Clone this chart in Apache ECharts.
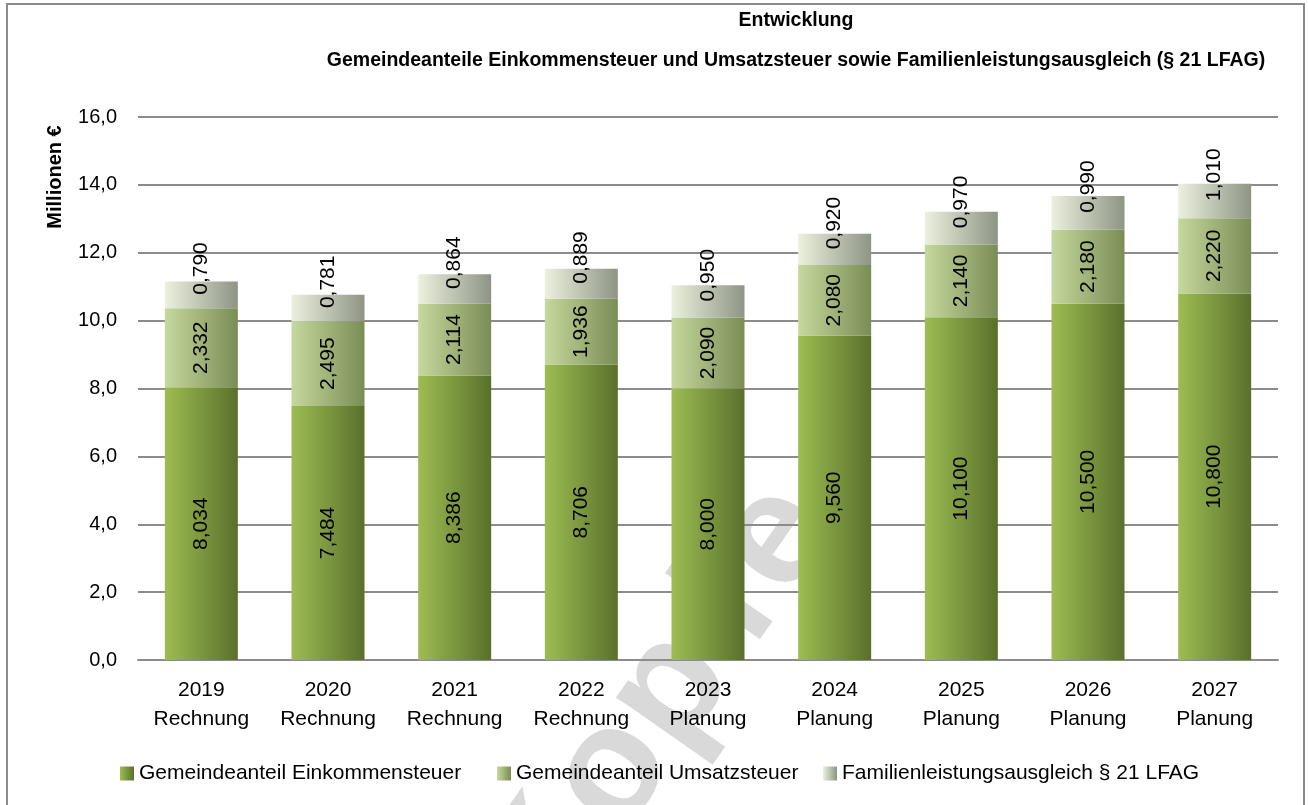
<!DOCTYPE html>
<html>
<head>
<meta charset="utf-8">
<script src="https://cdn.jsdelivr.net/npm/echarts@6/dist/echarts.min.js"></script>
<style>
html, body { margin: 0; padding: 0; background: #fff; }
#chart { width: 1308px; height: 805px; }
</style>
</head>
<body>
<div id="chart"></div>
<script>
// Werte in Millionen Euro
var jahre = ['2019', '2020', '2021', '2022', '2023', '2024', '2025', '2026', '2027'];
var art = ['Rechnung', 'Rechnung', 'Rechnung', 'Rechnung', 'Planung', 'Planung', 'Planung', 'Planung', 'Planung'];
var einkommensteuer = [8.034, 7.484, 8.386, 8.706, 8.000, 9.560, 10.100, 10.500, 10.800];
var umsatzsteuer = [2.332, 2.495, 2.114, 1.936, 2.090, 2.080, 2.140, 2.180, 2.220];
var familienleistung = [0.790, 0.781, 0.864, 0.889, 0.950, 0.920, 0.970, 0.990, 1.010];
var serienNamen = ['Gemeindeanteil Einkommensteuer', 'Gemeindeanteil Umsatzsteuer', 'Familienleistungsausgleich § 21 LFAG'];

var schrift = '"Liberation Sans", Arial, sans-serif';

var kategorien = jahre.map(function (j, i) { return j + '\n' + art[i]; });

function verlauf(links, rechts) {
	return new echarts.graphic.LinearGradient(0, 0, 1, 0, [
		{ offset: 0, color: links },
		{ offset: 1, color: rechts }
	]);
}

function zahl(p) {
	return p.value.toFixed(3).replace('.', ',');
}

function balkenLabel(align) {
	return {
		show: true,
		position: 'inside',
		rotate: 90,
		align: align,
		fontSize: 21,
		color: '#000',
		fontFamily: schrift,
		formatter: zahl
	};
}

function legende(name, left) {
	return {
		left: left,
		top: 758,
		itemWidth: 14,
		itemHeight: 14,
		icon: 'rect',
		textStyle: { fontFamily: schrift, fontSize: 21, color: '#000' },
		data: [name]
	};
}

var chart = echarts.init(document.getElementById('chart'));
var option = {
	animation: false,
	textStyle: { fontFamily: schrift },
	title: {
		text: 'Entwicklung\nGemeindeanteile Einkommensteuer und Umsatzsteuer sowie Familienleistungsausgleich (§ 21 LFAG)',
		left: 791,
		top: -4,
		textAlign: 'center',
		textStyle: {
			fontFamily: schrift,
			fontSize: 19.5,
			fontWeight: 'bold',
			color: '#000',
			lineHeight: 40
		}
	},
	legend: [
		legende(serienNamen[0], 115),
		legende(serienNamen[1], 492),
		legende(serienNamen[2], 818)
	],
	grid: {
		left: 138,
		right: 30,
		top: 117,
		bottom: 145
	},
	xAxis: {
		type: 'category',
		data: kategorien,
		axisLine: { lineStyle: { color: '#8c8c8c', width: 2 } },
		axisTick: { show: false },
		axisLabel: {
			interval: 0,
			color: '#000',
			fontSize: 21,
			lineHeight: 29,
			margin: 16,
			fontFamily: schrift
		}
	},
	yAxis: {
		type: 'value',
		min: 0,
		max: 16,
		interval: 2,
		axisLine: { show: false },
		axisTick: { show: false },
		splitLine: { lineStyle: { color: '#8c8c8c', width: 2 } },
		axisLabel: {
			color: '#000',
			fontSize: 20,
			margin: 21,
			fontFamily: schrift,
			formatter: function (v) { return v.toFixed(1).replace('.', ','); }
		}
	},
	series: [
		{
			name: serienNamen[0],
			type: 'bar',
			stack: 'summe',
			barWidth: 73,
			data: einkommensteuer,
			itemStyle: { color: verlauf('#9dbd52', '#5a702c') },
			label: balkenLabel('center')
		},
		{
			name: serienNamen[1],
			type: 'bar',
			stack: 'summe',
			barWidth: 73,
			data: umsatzsteuer,
			itemStyle: { color: verlauf('#c5d89d', '#7a8d55') },
			label: balkenLabel('center')
		},
		{
			name: serienNamen[2],
			type: 'bar',
			stack: 'summe',
			barWidth: 73,
			data: familienleistung,
			itemStyle: { color: verlauf('#ebf1dd', '#8f9585') },
			label: balkenLabel('left')
		}
	],
	graphic: [
		{
			type: 'rect',
			shape: { x: 7, y: 4, width: 1297, height: 820 },
			style: { fill: 'none', stroke: '#8a8a8a', lineWidth: 2 },
			silent: true
		},
		{
			type: 'text',
			x: 55,
			y: 177,
			rotation: Math.PI / 2,
			style: {
				text: 'Millionen €',
				fontFamily: schrift,
				fontSize: 20,
				fontWeight: 'bold',
				fill: '#000',
				align: 'center',
				verticalAlign: 'middle'
			}
		},
		{
			// Wasserzeichen "Kopie", Buchstaben einzeln gesetzt
			type: 'group',
			x: 730,
			y: 605,
			rotation: 55 * Math.PI / 180,
			z: 100,
			silent: true,
			children: [['K', -320], ['o', -205], ['p', -103], ['i', 0], ['e', 81]].map(function (b) {
				return {
					type: 'text',
					x: b[1],
					y: 0,
					style: {
						text: b[0],
						fontFamily: schrift,
						fontSize: 160,
						fontWeight: 'bold',
						fill: 'rgba(0,0,0,0.15)',
						align: 'center',
						verticalAlign: 'middle'
					}
				};
			})
		}
	]
};
chart.setOption(option);
</script>
</body>
</html>
